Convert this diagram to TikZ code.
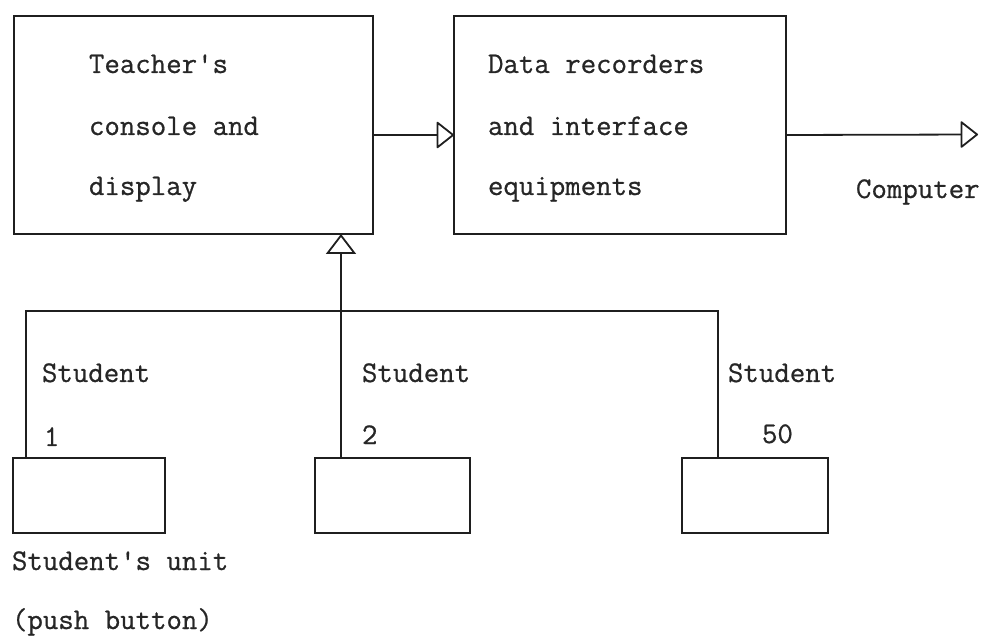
\documentclass[tikz,border=0pt]{standalone}
\usepackage{fontspec}
\newfontfamily\typewriter{Latin Modern Mono}[FakeBold=0.7]
\usetikzlibrary{arrows.meta,positioning}

\tikzset{
  ink/.style={draw=black!88, line width=1.8pt},
  bigbox/.style={ink, rectangle, inner sep=0pt, outer sep=0pt,
    minimum width=359pt, minimum height=218pt, anchor=north west},
  unitbox/.style={ink, rectangle, inner sep=0pt, outer sep=0pt,
    minimum height=75pt, anchor=north west},
  lbl/.style={inner sep=0pt, outer sep=0pt, anchor=base west,
    text=black!85, font=\fontsize{30}{36}\selectfont\typewriter},
  harrow/.style={ink, -{Triangle[open, round, length=18pt, width=28pt, line width=1.8pt]}},
  varrow/.style={ink, -{Triangle[open, length=20pt, width=30pt, line width=1.8pt]}}
}

\begin{document}
\begin{tikzpicture}[x=1pt, y=-1pt]
  \useasboundingbox (0,0) rectangle (986,636);

  % main blocks
  \node[bigbox] (console) at (14,16) {};
  \node[bigbox, minimum width=332pt] (recorder) at (454,16) {};

  % text inside the teacher's console
  \node[lbl] (t1) at (89,73)  {Teacher's};
  \node[lbl] (t2) at (89,135) {console and};
  \node[lbl] (t3) at (89,195) {display};

  % text inside the data recorder block
  \node[lbl] (d1) at (488,73)  {Data recorders};
  \node[lbl] (d2) at (488,135) {and interface};
  \node[lbl] (d3) at (488,195) {equipments};

  % output to the computer
  \coordinate (cout) at (978,134.5);
  \node[lbl] (comp) at (856,198) {Computer};

  \draw[harrow] ([yshift=-10pt]console.east) -- ([yshift=-10pt]recorder.west);
  \draw[harrow] ([yshift=-10pt]recorder.east) -- (cout);

  % student push-button units
  \node[unitbox, minimum width=152pt] (u1)  at (13,458)  {};
  \node[unitbox, minimum width=155pt] (u2)  at (315,458) {};
  \node[unitbox, minimum width=146pt] (u50) at (682,458) {};

  % common bus
  \coordinate (b1)  at (26,311);
  \coordinate (b2)  at (341,311);
  \coordinate (b50) at (718,311);

  \draw[ink] (u1.north -| b1) -- (b1) -- (b50) -- (u50.north -| b50);
  \draw[varrow] (u2.north -| b2) -- (console.south -| b2);

  % student labels
  \node[lbl] (s1)  at (42,382)  {Student};
  \node[lbl] (n1)  at (44,446)  {1};
  \node[lbl] (s2)  at (362,382) {Student};
  \node[lbl] (n2)  at (362,444) {2};
  \node[lbl] (s50) at (728,382) {Student};
  \node[lbl] (n50) at (762,443) {50};

  % caption of the unit
  \node[lbl] (cap1) at (12,570) {Student's unit};
  \node[lbl] (cap2) at (12,629) {(push button)};
\end{tikzpicture}
\end{document}
